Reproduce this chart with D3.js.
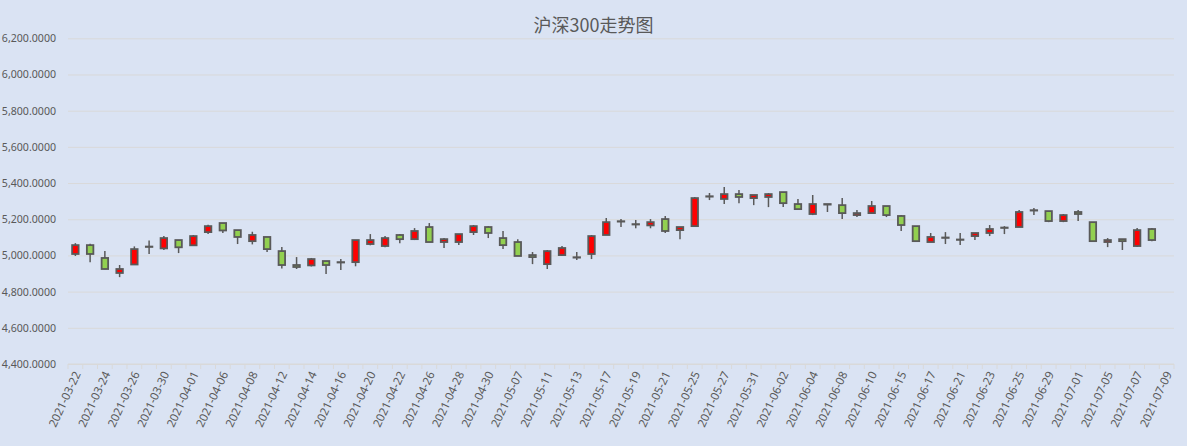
<!DOCTYPE html>
<html>
<head>
<meta charset="utf-8">
<script src="https://cdn.jsdelivr.net/npm/d3@7"></script>
<style>
  body { margin: 0; background: #dae3f3; }
  svg { display: block; }
</style>
</head>
<body>
<script>
// 沪深300 daily candles
var dates = ["2021-03-22","2021-03-23","2021-03-24","2021-03-25","2021-03-26","2021-03-29","2021-03-30","2021-03-31",
  "2021-04-01","2021-04-02","2021-04-06","2021-04-07","2021-04-08","2021-04-09","2021-04-12","2021-04-13","2021-04-14",
  "2021-04-15","2021-04-16","2021-04-19","2021-04-20","2021-04-21","2021-04-22","2021-04-23","2021-04-26","2021-04-27",
  "2021-04-28","2021-04-29","2021-04-30","2021-05-06","2021-05-07","2021-05-10","2021-05-11","2021-05-12","2021-05-13",
  "2021-05-14","2021-05-17","2021-05-18","2021-05-19","2021-05-20","2021-05-21","2021-05-24","2021-05-25","2021-05-26",
  "2021-05-27","2021-05-28","2021-05-31","2021-06-01","2021-06-02","2021-06-03","2021-06-04","2021-06-07","2021-06-08",
  "2021-06-09","2021-06-10","2021-06-11","2021-06-15","2021-06-16","2021-06-17","2021-06-18","2021-06-21","2021-06-22",
  "2021-06-23","2021-06-24","2021-06-25","2021-06-28","2021-06-29","2021-06-30","2021-07-01","2021-07-02","2021-07-05",
  "2021-07-06","2021-07-07","2021-07-08","2021-07-09"];

var open  = [5008,5057,4986,4903,4950,5049,5039,5085,5056,5129,5179,5140,5079,5102,5024,4947,4945,4969,4963,4963,
  5063,5052,5113,5090,5157,5074,5074,5129,5157,5096,5074,5002,4952,5002,4990,5008,5113,5189,5173,5166,
  5201,5140,5162,5327,5312,5339,5317,5323,5350,5284,5229,5284,5278,5223,5234,5273,5218,5162,5074,5099,
  5088,5107,5124,5154,5157,5250,5245,5190,5240,5184,5074,5090,5052,5146,null];
var close = [5057,5008,4925,4925,5035,5047,5096,5045,5107,5162,5138,5102,5113,5035,4947,4936,4980,4947,4961,5085,
  5085,5096,5090,5135,5074,5090,5118,5162,5124,5057,4997,4991,5024,5041,4988,5107,5184,5187,5171,5184,
  5135,5157,5317,5325,5339,5323,5334,5339,5289,5256,5284,5281,5234,5234,5273,5223,5168,5079,5102,5097,
  5086,5124,5146,5152,5240,5248,5190,5223,5229,5079,5085,5079,5140,5085,null];
var high  = [5068,5065,5024,4947,5050,5083,5107,5085,5113,5170,5179,5140,5131,5102,5046,4991,4986,4969,4980,5085,
  5118,5107,5118,5151,5179,5096,5118,5168,5162,5135,5090,5019,5030,5052,5019,5113,5207,5201,5196,5201,
  5218,5157,5323,5345,5378,5361,5334,5345,5350,5312,5334,5284,5317,5251,5301,5273,5223,5162,5124,5129,
  5124,5124,5168,5162,5251,5262,5245,5229,5251,5184,5096,5090,5151,5151,null];
var low   = [4997,4963,4923,4880,4950,5008,5030,5013,5056,5118,5124,5063,5061,5019,4928,4925,4939,4897,4919,4940,
  5056,5045,5068,5085,5074,5041,5057,5113,5096,5035,4997,4952,4925,4997,4975,4980,5113,5157,5150,5150,
  5124,5090,5162,5306,5284,5289,5278,5267,5267,5256,5223,5240,5201,5212,5229,5212,5135,5074,5074,5063,
  5057,5085,5107,5118,5157,5223,5184,5184,5190,5074,5046,5030,5046,5079,null];

var yTicks = [4400,4600,4800,5000,5200,5400,5600,5800,6000,6200];
var title = "沪深300走势图";

var w = 1187, h = 446;
var margin = {top: 38.3, right: 13, bottom: 82, left: 68};

var svg = d3.select("body").append("svg")
    .attr("width", w)
    .attr("height", h)
    .style("background-color", "#dae3f3");

var x = d3.scaleBand()
    .domain(dates)
    .range([margin.left, w - margin.right])
    .padding(0);

var y = d3.scaleLinear()
    .domain([4400, 6200])
    .range([h - margin.bottom, margin.top]);

var fmt = d3.format(",.4f");
var font = "'Noto Sans', 'Noto Sans CJK SC', sans-serif";

//gridlines + y labels
var yAxis = svg.append("g")
    .attr("transform", "translate(" + margin.left + ",0)")
    .call(d3.axisLeft(y).tickValues(yTicks).tickFormat(fmt)
        .tickSize(-(w - margin.left - margin.right)).tickPadding(12));
yAxis.select(".domain").remove();
yAxis.selectAll(".tick line").attr("stroke", "#d9d9d9").attr("stroke-width", 1);
yAxis.selectAll(".tick text")
    .attr("fill", "#595959")
    .style("font-family", font)
    .style("font-size", "10.6px");

//x axis with ticks between categories
var xAxisY = y(4400);
var xg = svg.append("g").attr("transform", "translate(0," + xAxisY + ")");
xg.append("line")
    .attr("x1", margin.left).attr("x2", w - margin.right)
    .attr("stroke", "#d9d9d9").attr("stroke-width", 1);
xg.selectAll("line.tk")
    .data(dates.concat(["end"]))
    .enter().append("line")
    .attr("class", "tk")
    .attr("x1", function(d, i){ return margin.left + i * x.bandwidth(); })
    .attr("x2", function(d, i){ return margin.left + i * x.bandwidth(); })
    .attr("y1", 0).attr("y2", 5)
    .attr("stroke", "#d9d9d9");
xg.selectAll("text")
    .data(dates.filter(function(d, i){ return i % 2 === 0; }))
    .enter().append("text")
    .attr("transform", function(d){
        return "translate(" + (x(d) + x.bandwidth() / 2 + 2) + ",8) rotate(-65)";
    })
    .attr("text-anchor", "end")
    .attr("dy", "0.35em")
    .attr("fill", "#595959")
    .style("font-family", font)
    .style("font-size", "11.5px")
    .text(function(d){ return d; });

//candles
var idx = d3.range(dates.length).filter(function(i){ return open[i] != null; });
var bw = 6.5;
var candles = svg.append("g").selectAll("g")
    .data(idx)
    .enter().append("g");

candles.append("line")
    .attr("x1", function(i){ return x(dates[i]) + x.bandwidth() / 2; })
    .attr("x2", function(i){ return x(dates[i]) + x.bandwidth() / 2; })
    .attr("y1", function(i){ return y(high[i]); })
    .attr("y2", function(i){ return y(low[i]); })
    .attr("stroke", "#595959")
    .attr("stroke-width", 1.5);

candles.append("rect")
    .attr("x", function(i){ return x(dates[i]) + x.bandwidth() / 2 - bw / 2; })
    .attr("width", bw)
    .attr("y", function(i){ return y(Math.max(open[i], close[i])); })
    .attr("height", function(i){ return Math.abs(y(open[i]) - y(close[i])); })
    .attr("fill", function(i){ return close[i] >= open[i] ? "#ff0000" : "#92d050"; })
    .attr("stroke", "#595959")
    .attr("stroke-width", 1.8);

//title
svg.append("text")
    .attr("x", w / 2)
    .attr("y", 32)
    .attr("text-anchor", "middle")
    .attr("fill", "#595959")
    .style("font-family", "'Noto Sans CJK SC', sans-serif")
    .style("font-size", "18px")
    .text(title);
</script>
</body>
</html>
